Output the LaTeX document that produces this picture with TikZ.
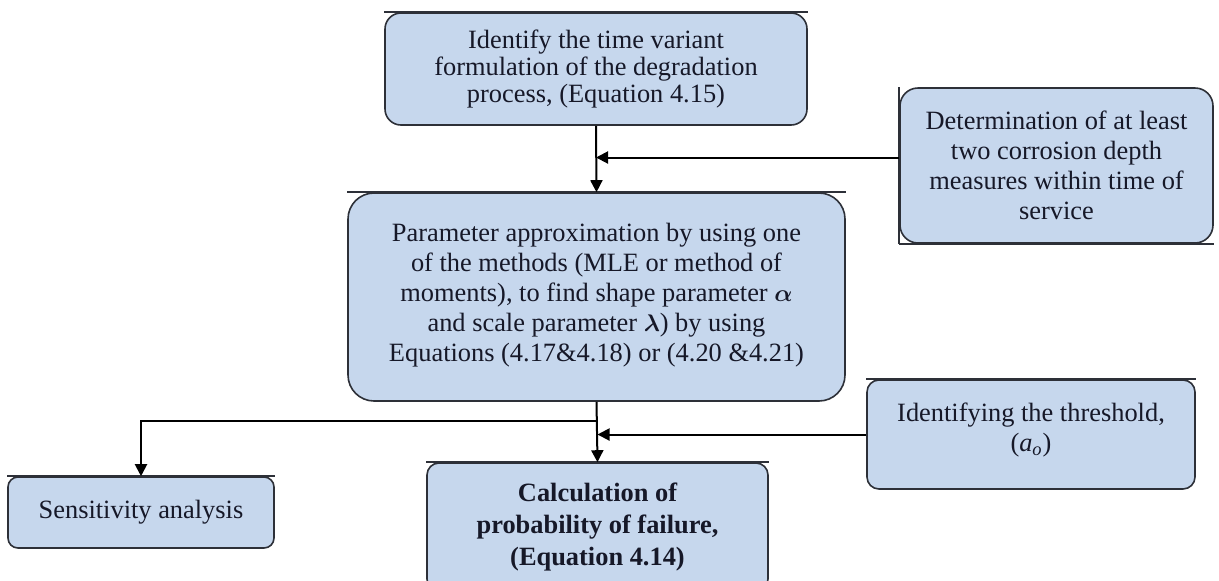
\documentclass[tikz,border=0pt]{standalone}
\usepackage{amsmath,bm}
\usepackage{fontspec}
\setmainfont{Liberation Serif}
\usetikzlibrary{arrows.meta,calc}
\definecolor{boxfill}{RGB}{198,215,237}
\definecolor{boxline}{RGB}{45,48,56}
\definecolor{ink}{RGB}{22,24,40}
% extra depth below the last line, lifting a centred text block
\newcommand{\liftby}[1]{\rule[-#1]{0pt}{0pt}}
\begin{document}
\begin{tikzpicture}[x=0.5pt,y=-0.5pt,
  box/.style={draw=boxline, line width=0.8pt, fill=boxfill, rounded corners=#1,
    align=center, text=ink, inner sep=0pt, font=\fontsize{13.2}{15}\selectfont},
  box/.default=7pt,
  edge/.style={draw=boxline, line width=0.9pt},
  arr/.style={-{Triangle[length=6pt,width=6pt]}, line width=1pt, draw=black}]
\useasboundingbox[fill=white] (0,0) rectangle (1219,580);

% process boxes
\node[box=8pt, minimum width=211pt, minimum height=56pt,
  font=\fontsize{13.2}{13.5}\selectfont] (top) at (596,69)
  {Identify the time variant\\ formulation of the degradation\\ process, (Equation 4.15)};
\node[box=9pt, minimum width=156.5pt, minimum height=77.5pt] (meas) at (1056.5,165.5)
  {Determination of at least\\ two corrosion depth\\ measures within time of\\ service};
\node[box=13pt, minimum width=248.5pt, minimum height=104pt] (mid) at (596.5,297)
  {Parameter approximation by using one\\ of the methods (MLE or method of\\
   moments), to find shape parameter $\bm{\alpha}$\\ and scale parameter $\bm{\lambda}$) by using\\
   Equations (4.17\&4.18) or (4.20 \&4.21)\liftby{5pt}};
\node[box=5pt, minimum width=133pt, minimum height=35.5pt] (sens) at (141,512.5)
  {Sensitivity analysis};
\node[box=6pt, minimum width=170.5pt, minimum height=64pt,
  font=\fontsize{13.2}{16.2}\selectfont\bfseries] (pof) at (597.5,527)
  {Calculation of\\ probability of failure,\\ (Equation 4.14)};
\node[box=6pt, minimum width=164pt, minimum height=54.5pt] (thr) at (1031,434.5)
  {Identifying the threshold,\\ (\textit{a}\textsubscript{\textit{o}})\liftby{7pt}};

% flat outer edges of the boxes
\draw[edge] (top.north west) -- (top.north east);
\draw[edge] (mid.north west) -- (mid.north east);
\draw[edge] (sens.north west) -- (sens.north east);
\draw[edge] (pof.north west) -- (pof.north east);
\draw[edge] (thr.north west) -- (thr.north east);
\draw[edge] (meas.north west) -- (meas.south west);
\draw[edge] (meas.south west) -- (meas.south east);

% main flow
\draw[arr] (top.south) -- (mid.north);
\coordinate (mj) at ([yshift=4pt]meas.west);
\draw[arr] (mj) -- (mj -| top.south);
\draw[arr] (mid.south) -- (pof.north);
\draw[arr] (mid.south) ++(0,19) -| (sens.north);
\draw[arr] (thr.west) -- (thr.west -| pof.north);
\end{tikzpicture}
\end{document}
